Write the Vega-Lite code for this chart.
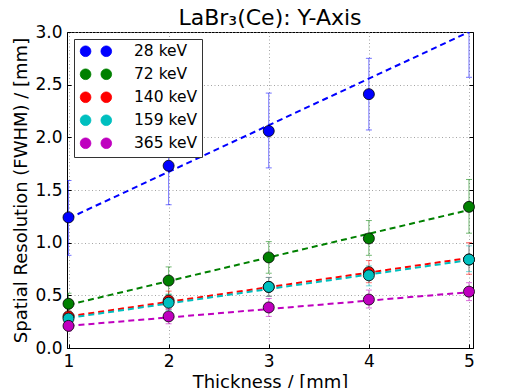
{
  "$schema": "https://vega.github.io/schema/vega-lite/v6.json",
  "width": 406,
  "height": 316,
  "autosize": "none",
  "padding": {"left": 67, "top": 32, "right": 36, "bottom": 40},
  "title": {"text": "LaBr₃(Ce): Y-Axis", "fontSize": 22, "font": "DejaVu Sans", "fontWeight": "normal", "color": "black", "offset": -7},
  "config": {
    "font": "DejaVu Sans",
    "legend": {"labelFontSize": 15.5, "labelFont": "DejaVu Sans"},
    "view": {"stroke": "black", "strokeWidth": 1},
    "axis": {
      "labelFont": "DejaVu Sans", "titleFont": "DejaVu Sans",
      "labelFontSize": 17, "titleFontSize": 18, "titleFontWeight": "normal",
      "labelColor": "black", "titleColor": "black",
      "domainColor": "black", "tickColor": "black",
      "gridColor": "#9a9a9a", "gridDash": [1, 2.5], "gridWidth": 0.9,
      "tickSize": -4, "labelPadding": 9
    }
  },
  "datasets": {
    "pts": [
      {"t": 1, "res": 1.24, "lo": 0.88, "hi": 1.59, "e": "28 keV"},
      {"t": 2, "res": 1.73, "lo": 1.36, "hi": 2.10, "e": "28 keV"},
      {"t": 3, "res": 2.06, "lo": 1.71, "hi": 2.42, "e": "28 keV"},
      {"t": 4, "res": 2.41, "lo": 2.07, "hi": 2.75, "e": "28 keV"},
      {"t": 5, "res": 3.1, "lo": 2.57, "hi": 3.6, "e": "28 keV"},
      {"t": 1, "res": 0.42, "lo": 0.32, "hi": 0.52, "e": "72 keV"},
      {"t": 2, "res": 0.64, "lo": 0.51, "hi": 0.77, "e": "72 keV"},
      {"t": 3, "res": 0.86, "lo": 0.71, "hi": 1.01, "e": "72 keV"},
      {"t": 4, "res": 1.04, "lo": 0.88, "hi": 1.21, "e": "72 keV"},
      {"t": 5, "res": 1.34, "lo": 1.09, "hi": 1.60, "e": "72 keV"},
      {"t": 1, "res": 0.30, "lo": 0.24, "hi": 0.35, "e": "140 keV"},
      {"t": 2, "res": 0.45, "lo": 0.37, "hi": 0.54, "e": "140 keV"},
      {"t": 3, "res": 0.58, "lo": 0.49, "hi": 0.67, "e": "140 keV"},
      {"t": 4, "res": 0.72, "lo": 0.62, "hi": 0.83, "e": "140 keV"},
      {"t": 5, "res": 0.84, "lo": 0.70, "hi": 1.00, "e": "140 keV"},
      {"t": 1, "res": 0.28, "lo": 0.23, "hi": 0.33, "e": "159 keV"},
      {"t": 2, "res": 0.43, "lo": 0.36, "hi": 0.51, "e": "159 keV"},
      {"t": 3, "res": 0.58, "lo": 0.49, "hi": 0.67, "e": "159 keV"},
      {"t": 4, "res": 0.69, "lo": 0.59, "hi": 0.78, "e": "159 keV"},
      {"t": 5, "res": 0.84, "lo": 0.725, "hi": 0.97, "e": "159 keV"},
      {"t": 1, "res": 0.21, "lo": 0.16, "hi": 0.27, "e": "365 keV"},
      {"t": 2, "res": 0.30, "lo": 0.23, "hi": 0.37, "e": "365 keV"},
      {"t": 3, "res": 0.385, "lo": 0.30, "hi": 0.47, "e": "365 keV"},
      {"t": 4, "res": 0.46, "lo": 0.38, "hi": 0.55, "e": "365 keV"},
      {"t": 5, "res": 0.535, "lo": 0.45, "hi": 0.62, "e": "365 keV"}
    ],
    "fits": [
      {"t": 1, "res": 1.23, "e": "28 keV"},
      {"t": 5, "res": 3.0, "e": "28 keV"},
      {"t": 1, "res": 0.41, "e": "72 keV"},
      {"t": 5, "res": 1.31, "e": "72 keV"},
      {"t": 1, "res": 0.30, "e": "140 keV"},
      {"t": 5, "res": 0.855, "e": "140 keV"},
      {"t": 1, "res": 0.285, "e": "159 keV"},
      {"t": 5, "res": 0.835, "e": "159 keV"},
      {"t": 1, "res": 0.21, "e": "365 keV"},
      {"t": 5, "res": 0.53, "e": "365 keV"}
    ]
  },
  "resolve": {"axis": {"x": "independent", "y": "independent"}},
  "layer": [
    {
      "data": {"name": "pts"},
      "mark": {"type": "rule", "clip": true, "strokeWidth": 1, "opacity": 0.55},
      "encoding": {
        "x": {"field": "t", "type": "quantitative", "scale": {"domain": [0.985, 5.04], "nice": false, "zero": false}, "axis": null},
        "y": {"field": "lo", "type": "quantitative", "scale": {"domain": [0, 3], "nice": false}, "axis": null},
        "y2": {"field": "hi"},
        "color": {"field": "e", "type": "nominal"}
      }
    },
    {
      "data": {"name": "pts"},
      "mark": {"type": "tick", "clip": true, "orient": "horizontal", "size": 6, "thickness": 1, "opacity": 0.55},
      "encoding": {
        "x": {"field": "t", "type": "quantitative", "axis": null},
        "y": {"field": "lo", "type": "quantitative", "axis": null},
        "color": {"field": "e", "type": "nominal"}
      }
    },
    {
      "data": {"name": "pts"},
      "mark": {"type": "tick", "clip": true, "orient": "horizontal", "size": 6, "thickness": 1, "opacity": 0.55},
      "encoding": {
        "x": {"field": "t", "type": "quantitative", "axis": null},
        "y": {"field": "hi", "type": "quantitative", "axis": null},
        "color": {"field": "e", "type": "nominal"}
      }
    },
    {
      "data": {"name": "fits"},
      "mark": {"type": "line", "clip": true, "strokeWidth": 2, "strokeDash": [6, 4]},
      "encoding": {
        "x": {"field": "t", "type": "quantitative", "axis": null},
        "y": {"field": "res", "type": "quantitative", "axis": {"orient": "right", "values": [0, 0.5, 1, 1.5, 2, 2.5, 3], "labels": false, "title": null, "grid": false, "domain": false}},
        "color": {"field": "e", "type": "nominal"},
        "detail": {"field": "e"}
      }
    },
    {
      "data": {"name": "pts"},
      "transform": [{"filter": "datum.res <= 3"}],
      "mark": {"type": "point", "shape": "circle", "filled": true, "clip": false, "size": 121, "stroke": "black", "strokeWidth": 0.8, "opacity": 1},
      "encoding": {
        "x": {"field": "t", "type": "quantitative", "axis": {"values": [1, 2, 3, 4, 5], "format": "d", "title": "Thickness / [mm]", "grid": true, "titlePadding": 4}},
        "y": {"field": "res", "type": "quantitative", "axis": {"values": [0, 0.5, 1, 1.5, 2, 2.5, 3], "format": ".1f", "title": "Spatial Resolution (FWHM) / [mm]", "grid": true, "titlePadding": 4}},
        "color": {
          "field": "e", "type": "nominal",
          "scale": {"domain": ["28 keV", "72 keV", "140 keV", "159 keV", "365 keV"], "range": ["#0000ff", "#008000", "#ff0000", "#00bfbf", "#bf00bf"]},
          "legend": {
            "title": null, "orient": "top-left", "offset": 7, "padding": 4.5,
            "strokeColor": "#333", "fillColor": "white", "cornerRadius": 0,
            "labelFontSize": 15.5, "labelColor": "black", "labelOffset": 40, "rowPadding": 6,
            "symbolType": "M -1 0 A 0.89 0.89 0 1 0 0.78 0 A 0.89 0.89 0 1 0 -1 0 Z M 2.45 0 A 0.89 0.89 0 1 0 4.23 0 A 0.89 0.89 0 1 0 2.45 0 Z",
            "symbolSize": 144, "symbolStrokeColor": "black", "symbolStrokeWidth": 0.8, "symbolOpacity": 1, "symbolDash": [],
            "encode": {"symbols": {"update": {"fill": {"scale": "color", "field": "value"}, "stroke": {"value": "black"}, "strokeDash": {"value": []}, "opacity": {"value": 1}}}}
          }
        }
      }
    }
  ]
}
